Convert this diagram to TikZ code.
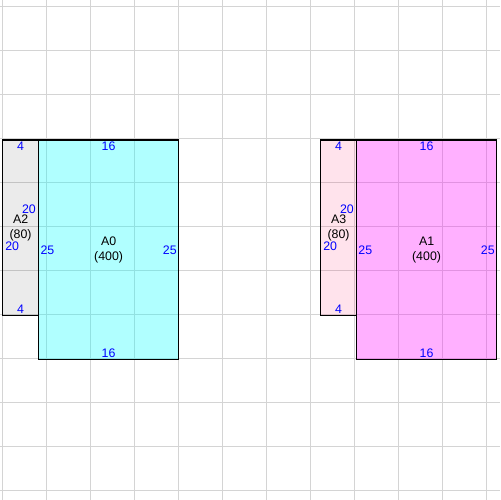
\documentclass[tikz,border=0pt]{standalone}
\usepackage{fontspec}
\setmainfont{Liberation Sans}
\definecolor{pinkish}{RGB}{255,0,80}
\definecolor{aqua}{RGB}{0,255,255}
\definecolor{fuchsia}{RGB}{255,0,255}
\begin{document}
\begin{tikzpicture}
  [gridline/.style={draw=black!17,line width=0.65pt},
   sheet/.style={draw,line width=0.65pt,anchor=north west,inner sep=0pt,outer sep=0pt},
   dim/.style={text=blue,font=\fontsize{8}{9.6}\selectfont,inner sep=1.3pt},
   partname/.style={font=\fontsize{8}{9.6}\selectfont,align=center,inner sep=0pt}]
  \useasboundingbox (0,0) rectangle (11.364,11.364);
  \foreach \i in {0,...,11} {
    \draw[gridline] (\i+0.068,0) -- (\i+0.068,11.364);
    \draw[gridline] (0,11.205-\i) -- (11.364,11.205-\i);
  }

  % left pair
  \node[sheet,minimum width=0.8cm,minimum height=4cm,fill=black,fill opacity=0.08] (A2) at (0.068,8.182) {};
  \node[sheet,minimum width=3.2cm,minimum height=5cm,fill=aqua,fill opacity=0.31] (A0) at (A2.north east) {};
  % right pair
  \node[sheet,minimum width=0.8cm,minimum height=4cm,fill=pinkish,fill opacity=0.11] (A3) at (7.295,8.182) {};
  \node[sheet,minimum width=3.2cm,minimum height=5cm,fill=fuchsia,fill opacity=0.31] (A1) at (A3.north east) {};

  \foreach \s/\n in {A2/80,A3/80} {
    \node[partname] at (\s.center) {\s\\(\n)};
    \node[dim,anchor=north] at (\s.north) {4};
    \node[dim,anchor=south] at (\s.south) {4};
    \node[dim,anchor=east,yshift=12pt] at (\s.east) {20};
    \node[dim,anchor=west,yshift=-12pt] at (\s.west) {20};
  }
  \foreach \s/\n in {A0/400,A1/400} {
    \node[partname] at (\s.center) {\s\\(\n)};
    \node[dim,anchor=north] at (\s.north) {16};
    \node[dim,anchor=south] at (\s.south) {16};
    \node[dim,anchor=west] at (\s.west) {25};
    \node[dim,anchor=east] at (\s.east) {25};
  }
\end{tikzpicture}
\end{document}
